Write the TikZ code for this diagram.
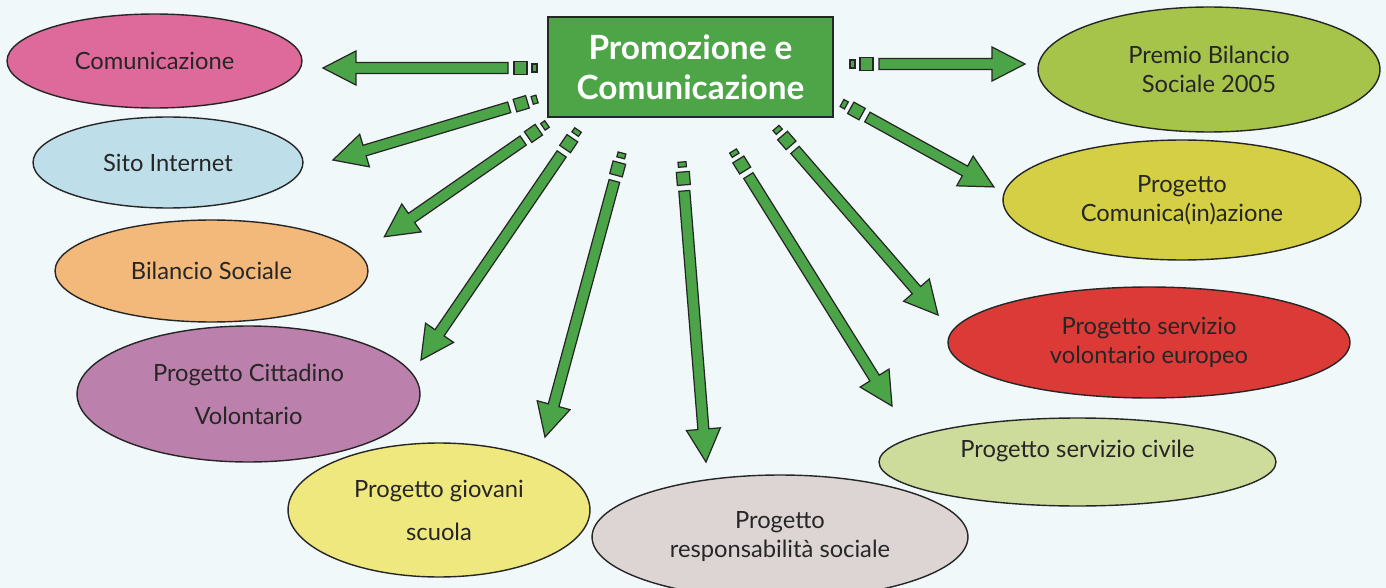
\documentclass[tikz,border=0pt]{standalone}
\usepackage{fontspec}
\setmainfont{Lato}
\usetikzlibrary{shapes.geometric,calc}
\definecolor{bgcol}{RGB}{241,248,250}
\definecolor{hubgreen}{RGB}{78,165,72}
\definecolor{arrgreen}{RGB}{76,164,72}
\definecolor{comcol}{RGB}{221,106,154}
\definecolor{sitocol}{RGB}{190,223,234}
\definecolor{bilcol}{RGB}{242,185,123}
\definecolor{citcol}{RGB}{187,128,171}
\definecolor{giocol}{RGB}{239,232,126}
\definecolor{respcol}{RGB}{221,213,212}
\definecolor{civcol}{RGB}{205,220,155}
\definecolor{eurcol}{RGB}{219,58,54}
\definecolor{comincol}{RGB}{212,207,68}
\definecolor{premcol}{RGB}{166,196,74}
\tikzset{
  elli/.style={ellipse,draw=black!85,line width=.8pt,inner sep=0pt,align=center,
               text=black!85,font=\fontsize{13.5}{16.5}\selectfont},
  hub/.style={rectangle,draw=black!85,line width=.9pt,fill=hubgreen,text=white,
              align=center,font=\fontsize{19}{23}\selectfont\bfseries,
              minimum width=5.7cm,minimum height=2cm},
  blockarr/.style={fill=arrgreen,draw=black!85,line width=.7pt,line join=miter},
}
% striped block arrow from #1 (tail) to #2 (tip), lengths in px
\newcommand\promoarrow[2]{%
  \path let \p1=($(#2)-(#1)$) in
    \pgfextra{\pgfmathsetmacro\arrang{atan2(\y1,\x1)}%
      \pgfmathsetmacro\arrlen{veclen(\x1,\y1)/0.56905}%
      \xdef\Arrang{\arrang}\xdef\Arrlen{\arrlen}};
  \begin{scope}[shift={(#1)},rotate=\Arrang]
    \draw[blockarr] (0,-4) rectangle (5,4);
    \draw[blockarr] (10,-6.5) rectangle (23,6.5);
    \draw[blockarr] (29,-5.5) -- (\Arrlen-33,-5.5) -- (\Arrlen-33,-17) -- (\Arrlen,0)
      -- (\Arrlen-33,17) -- (\Arrlen-33,5.5) -- (29,5.5) -- cycle;
  \end{scope}}

\begin{document}
\begin{tikzpicture}[x=.02cm,y=-.02cm]
  \fill[bgcol] (0,0) rectangle (1386,588);
  \useasboundingbox (0,0) rectangle (1386,588);
  % --- centre
  \node[hub] (hub) at (690.5,67) {Promozione e\\Comunicazione};
  % --- left side
  \node[elli,fill=comcol,minimum width=5.90cm,minimum height=1.88cm] (com) at (154.5,61) {Comunicazione};
  \node[elli,fill=sitocol,minimum width=5.40cm,minimum height=1.82cm] (sito) at (168,162.5) {Sito Internet};
  \node[elli,fill=bilcol,minimum width=6.26cm,minimum height=2.04cm] (bil) at (211.5,271) {Bilancio Sociale};
  \node[elli,fill=citcol,minimum width=6.86cm,minimum height=2.72cm] (cit) at (248.5,394) {Progetto Cittadino\\[8pt]Volontario};
  \node[elli,fill=giocol,minimum width=6.04cm,minimum height=2.68cm] (gio) at (439,510) {Progetto giovani\\[8pt]scuola};
  % --- bottom and right side
  \node[elli,fill=respcol,minimum width=7.52cm,minimum height=2.48cm] (resp) at (780,537) {Progetto\\responsabilità sociale};
  \node[elli,fill=civcol,minimum width=7.94cm,minimum height=1.76cm] (civ) at (1077.5,462) {\raisebox{.52cm}{Progetto servizio civile}};
  \node[elli,fill=eurcol,minimum width=8.04cm,minimum height=2.22cm] (eur) at (1149,342.5) {Progetto servizio\\volontario europeo};
  \node[elli,fill=comincol,minimum width=7.16cm,minimum height=2.40cm] (comin) at (1182,200) {Progetto\\Comunica(in)azione};
  \node[elli,fill=premcol,minimum width=6.84cm,minimum height=2.50cm] (prem) at (1209,69.5) {Premio Bilancio\\Sociale 2005};
  % --- arrows: tail near the box, tip near the ellipse
  \foreach \nm/\tx/\ty/\hx/\hy in {com/537/68/323/68, sito/537/99/333/160,
      bil/547/124/384/237, cit/578/130/421/360, gio/622/153/545/437,
      resp/682/162/706/462, civ/733/151/892/406, eur/776/128/938/315,
      comin/842/103/994/187, prem/850/64/1025/64}{
    \coordinate (t\nm) at (\tx,\ty);
    \coordinate (h\nm) at (\hx,\hy);
    \promoarrow{t\nm}{h\nm}
  }
\end{tikzpicture}
\end{document}
